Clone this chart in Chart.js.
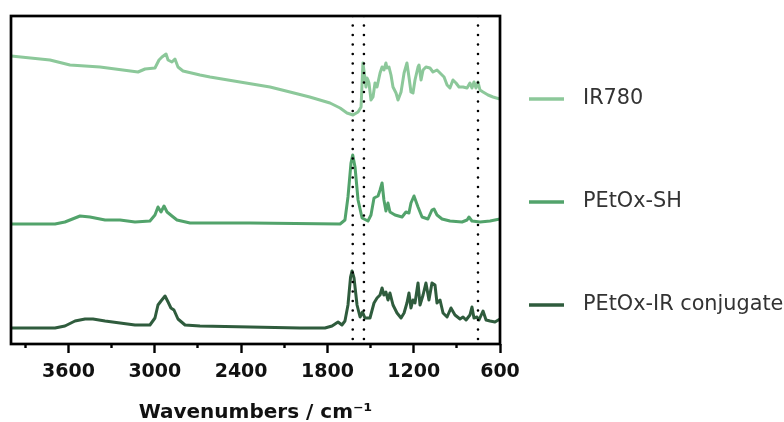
<!DOCTYPE html>
<html>
<head>
<meta charset="utf-8">
<title>FTIR spectra</title>
<script src="https://cdn.jsdelivr.net/npm/chart.js@4"></script>
<style>
  body { margin: 0; background: #fff; }
  #wrap { width: 784px; height: 422px; }
</style>
</head>
<body>
<div id="wrap"><canvas id="chart"></canvas></div>
<script>
// spectra, stacked with their vertical offsets (arbitrary units)
const seriesNames = ['IR780', 'PEtOx-SH', 'PEtOx-IR conjugate'];

const ir780Wavenumbers = [4000, 3729, 3590, 3381, 3117, 3068, 2999, 2971, 2950, 2922, 2908, 2881, 2860, 2839, 2804,
  2686, 2616, 2408, 2199, 2060, 1923, 1782, 1712, 1664, 1622, 1587, 1566, 1553, 1542, 1532, 1525, 1518, 1511,
  1497, 1483, 1469, 1455, 1434, 1420, 1407, 1393, 1386, 1372, 1358, 1344, 1323, 1309, 1288, 1267, 1247, 1233,
  1219, 1205, 1191, 1170, 1163, 1149, 1135, 1115, 1087, 1066, 1038, 1017, 989, 968, 948, 927, 906, 885, 857,
  829, 809, 795, 781, 767, 753, 739, 718, 683, 649, 600];
const ir780Values = [288, 284, 279, 277, 272, 275, 276, 284, 287, 290, 284, 282, 285, 277, 273,
  269, 267, 262, 257, 252, 247, 241, 236, 231, 229, 232, 237, 281, 269, 257, 266, 264, 261,
  244, 247, 261, 257, 271, 277, 274, 281, 276, 277, 269, 257, 251, 244, 252, 271, 281, 267,
  252, 251, 264, 277, 279, 264, 274, 277, 276, 272, 274, 271, 267, 259, 256, 264, 261, 257, 257,
  256, 261, 256, 262, 256, 262, 254, 252, 249, 247, 245];

const petoxWavenumbers = [4000, 3694, 3625, 3555, 3520, 3451, 3381, 3346, 3242, 3138, 3034, 2999, 2978, 2957, 2936,
  2915, 2881, 2846, 2755, 2338, 1712, 1678, 1657, 1636, 1624, 1608, 1587, 1559, 1518, 1497, 1476, 1462, 1448,
  1434, 1420, 1407, 1393, 1379, 1365, 1330, 1281, 1254, 1233, 1219, 1198, 1170, 1142, 1101, 1073, 1059, 1038,
  1003, 948, 864, 829, 816, 795, 739, 669, 600];
const petoxValues = [120, 120, 122, 126, 128, 127, 125, 124, 124, 122, 123, 129, 137, 132, 138,
  132, 128, 124, 121, 121, 120, 124, 147, 181, 189, 177, 144, 126, 123, 129, 146, 147, 148,
  154, 161, 144, 133, 141, 132, 129, 127, 132, 131, 141, 148, 137, 127, 125, 134, 135, 129,
  125, 123, 122, 124, 127, 123, 122, 123, 125];

const conjWavenumbers = [4000, 3694, 3625, 3555, 3485, 3430, 3346, 3242, 3138, 3034, 2999, 2978, 2957, 2929, 2908,
  2888, 2867, 2839, 2790, 2686, 2338, 1991, 1817, 1768, 1726, 1699, 1678, 1657, 1639, 1629, 1615, 1594, 1573,
  1556, 1539, 1504, 1476, 1455, 1434, 1420, 1407, 1393, 1379, 1365, 1344, 1316, 1288, 1267, 1247, 1233, 1219,
  1205, 1191, 1170, 1156, 1135, 1115, 1094, 1073, 1052, 1038, 1017, 996, 968, 941, 913, 878, 857, 836, 809,
  795, 781, 760, 746, 718, 697, 669, 635, 600];
const conjValues = [16, 16, 18, 23, 25, 25, 23, 21, 19, 19, 26, 39, 43, 48, 42,
  36, 34, 25, 19, 18, 17, 16, 16, 18, 22, 19, 23, 39, 67, 73, 66, 39, 27,
  32, 26, 26, 41, 46, 49, 56, 49, 52, 44, 51, 39, 31, 26, 31, 41, 51, 36,
  44, 41, 61, 39, 49, 61, 44, 61, 59, 41, 44, 31, 27, 36, 29, 25, 27, 24, 29,
  37, 26, 27, 24, 33, 24, 23, 22, 25];

const markerWavenumbers = [1624, 1546, 753];
const majorTicks = [3600, 3000, 2400, 1800, 1200, 600];
const minorTicks = [3900, 3300, 2700, 2100, 1500, 900];
const xRange = [600, 4000];
const yRange = [0, 328];

const colors = ['#8cc89a', '#52a36b', '#2f5c3d'];

function toPoints(xs, ys) {
  return xs.map((x, i) => ({ x: x, y: ys[i] }));
}

const spectra = [
  toPoints(ir780Wavenumbers, ir780Values),
  toPoints(petoxWavenumbers, petoxValues),
  toPoints(conjWavenumbers, conjValues)
];

const datasets = spectra.map((pts, i) => ({
  label: seriesNames[i],
  data: pts,
  borderColor: colors[i],
  borderWidth: 3,
  borderJoinStyle: 'round',
  pointRadius: 0,
  tension: 0,
  order: 1
}));

markerWavenumbers.forEach(wn => {
  datasets.push({
    label: 'marker',
    data: [{ x: wn, y: yRange[1] }, { x: wn, y: yRange[0] }],
    borderColor: '#000',
    borderWidth: 2.6,
    borderDash: [0, 9.5],
    borderCapStyle: 'round',
    pointRadius: 0,
    order: 0
  });
});

// box round the plot area
const frame = {
  id: 'frame',
  afterDatasetsDraw(chart) {
    const { ctx, chartArea: a } = chart;
    ctx.save();
    ctx.strokeStyle = '#000';
    ctx.lineWidth = 2.7;
    ctx.strokeRect(a.left, a.top, a.right - a.left, a.bottom - a.top);
    ctx.restore();
  }
};

// legend beside each trace
const sideLegend = {
  id: 'sideLegend',
  afterDraw(chart, args, opts) {
    const ctx = chart.ctx;
    ctx.save();
    ctx.font = '20.8px "DejaVu Sans"';
    ctx.textBaseline = 'middle';
    opts.rows.forEach((y, i) => {
      const ds = chart.data.datasets[i];
      ctx.strokeStyle = ds.borderColor;
      ctx.lineWidth = 3.5;
      ctx.beginPath();
      ctx.moveTo(opts.x, y);
      ctx.lineTo(opts.x + 35, y);
      ctx.stroke();
      ctx.fillStyle = '#333';
      ctx.fillText(ds.label, opts.x + 54, y);
    });
    ctx.restore();
  }
};

new Chart(document.getElementById('chart'), {
  type: 'line',
  data: { datasets: datasets },
  plugins: [frame, sideLegend],
  options: {
    responsive: true,
    maintainAspectRatio: false,
    animation: false,
    layout: { padding: { left: 11, right: 284, top: 16, bottom: 0 } },
    plugins: {
      legend: { display: false },
      tooltip: { enabled: false },
      sideLegend: { x: 529, rows: [99, 202, 305] }
    },
    scales: {
      x: {
        type: 'linear',
        min: xRange[0],
        max: xRange[1],
        reverse: true,
        afterBuildTicks: s => { s.ticks = majorTicks.map(v => ({ value: v })); },
        afterFit: s => { s.height = 78; },
        border: { display: false },
        grid: { drawOnChartArea: false, tickLength: 9, tickWidth: 2.4, tickColor: '#000' },
        ticks: {
          autoSkip: false,
          maxRotation: 0,
          padding: 8,
          color: '#111',
          font: { family: 'DejaVu Sans', size: 19, weight: 'bold' },
          callback: v => String(v)
        },
        title: {
          display: true,
          text: 'Wavenumbers / cm⁻¹',
          color: '#111',
          padding: { top: 0, bottom: 0 },
          font: { family: 'DejaVu Sans', size: 20, weight: 'bold', lineHeight: 0.9 }
        }
      },
      xMinor: {
        type: 'linear',
        axis: 'x',
        position: { y: 0 },
        min: xRange[0],
        max: xRange[1],
        reverse: true,
        afterBuildTicks: s => { s.ticks = minorTicks.map(v => ({ value: v })); },
        border: { display: false },
        grid: { drawOnChartArea: false, tickLength: 4, tickWidth: 2.4, tickColor: '#000' },
        ticks: { display: false }
      },
      y: {
        display: false,
        min: yRange[0],
        max: yRange[1]
      }
    }
  }
});
</script>
</body>
</html>
